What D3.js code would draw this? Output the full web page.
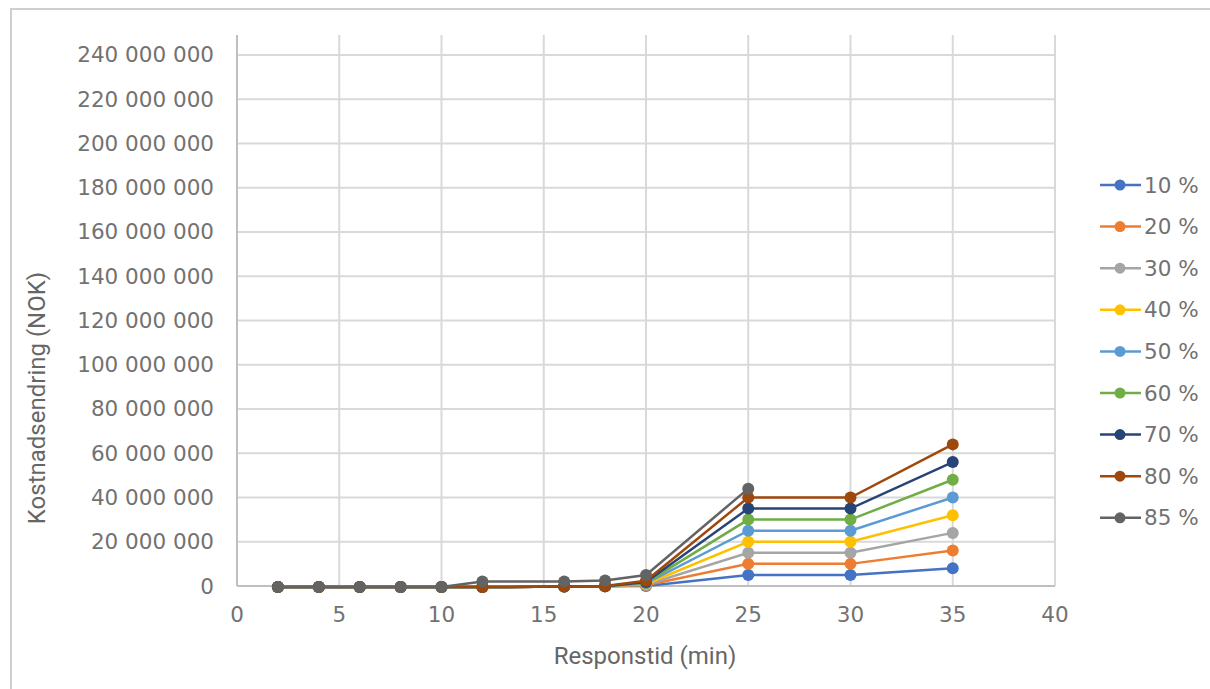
<!DOCTYPE html>
<html>
<head>
<meta charset="utf-8">
<script src="https://cdn.jsdelivr.net/npm/d3@7"></script>
<style>
  body { margin: 0; background: #fff; }
  #chart { width: 1210px; height: 689px; }
</style>
</head>
<body>
<div id="chart"></div>
<script>
(function () {
// data
const xValues = [2, 4, 6, 8, 10, 12, 16, 18, 20, 25, 30, 35];
const seriesNames = ["10 %", "20 %", "30 %", "40 %", "50 %", "60 %", "70 %", "80 %", "85 %"];
const s10 = [-0.4e6, -0.4e6, -0.4e6, -0.4e6, -0.4e6, -0.5e6, -0.2e6, -0.1e6, 0, 5e6, 5e6, 8e6];
const s20 = [-0.4e6, -0.4e6, -0.4e6, -0.4e6, -0.4e6, -0.5e6, -0.2e6, -0.1e6, 0.3e6, 10e6, 10e6, 16e6];
const s30 = [-0.4e6, -0.4e6, -0.4e6, -0.4e6, -0.4e6, -0.5e6, -0.2e6, -0.1e6, 0.6e6, 15e6, 15e6, 24e6];
const s40 = [-0.4e6, -0.4e6, -0.4e6, -0.4e6, -0.4e6, -0.5e6, -0.2e6, -0.1e6, 0.9e6, 20e6, 20e6, 32e6];
const s50 = [-0.4e6, -0.4e6, -0.4e6, -0.4e6, -0.4e6, -0.5e6, -0.2e6, -0.1e6, 1.2e6, 25e6, 25e6, 40e6];
const s60 = [-0.4e6, -0.4e6, -0.4e6, -0.4e6, -0.4e6, -0.5e6, -0.2e6, -0.1e6, 1.5e6, 30e6, 30e6, 48e6];
const s70 = [-0.4e6, -0.4e6, -0.4e6, -0.4e6, -0.4e6, -0.5e6, -0.2e6, -0.1e6, 1.8e6, 35e6, 35e6, 56e6];
const s80 = [-0.4e6, -0.4e6, -0.4e6, -0.4e6, -0.4e6, -0.5e6, -0.2e6, 0, 2.4e6, 40e6, 40e6, 64e6];
const s85 = [-0.4e6, -0.4e6, -0.4e6, -0.4e6, -0.4e6, 2e6, 2e6, 2.5e6, 5e6, 44e6, null, null];
const seriesValues = [s10, s20, s30, s40, s50, s60, s70, s80, s85];
const colors = ["#4472C4", "#ED7D31", "#A5A5A5", "#FFC000", "#5B9BD5", "#70AD47", "#264478", "#9E480E", "#636363"];
const xTicks = [0, 5, 10, 15, 20, 25, 30, 35, 40];
const yTicks = d3.range(0, 240e6 + 1, 20e6);

const svg = d3.select("#chart")
  .append("svg")
  .attr("width", 1210)
  .attr("height", 689);

// frame
svg.append("path")
  .attr("d", "M11,689 V9 H1210")
  .attr("fill", "none")
  .attr("stroke", "#cfcfcf")
  .attr("stroke-width", 2);

const plot = { left: 237, right: 1055, top: 35, bottom: 586 };

const x = d3.scaleLinear().domain([0, 40]).range([plot.left, plot.right]);
const y = d3.scaleLinear().domain([0, 249e6]).range([plot.bottom, plot.top]);

const tickFont = "'DejaVu Sans', sans-serif";
const fmt = v => d3.format(",")(v).replace(/,/g, " ");

// gridlines
svg.append("g")
  .selectAll("line")
  .data(yTicks.filter(d => d > 0))
  .join("line")
  .attr("x1", plot.left).attr("x2", plot.right)
  .attr("y1", d => y(d)).attr("y2", d => y(d))
  .attr("stroke", "#d9d9d9")
  .attr("stroke-width", 2);

svg.append("g")
  .selectAll("line")
  .data(xTicks.filter(d => d > 0))
  .join("line")
  .attr("x1", d => x(d)).attr("x2", d => x(d))
  .attr("y1", plot.top).attr("y2", plot.bottom)
  .attr("stroke", "#d9d9d9")
  .attr("stroke-width", 2);

// axis lines
svg.append("line")
  .attr("x1", plot.left).attr("x2", plot.left)
  .attr("y1", plot.top).attr("y2", plot.bottom)
  .attr("stroke", "#bfbfbf").attr("stroke-width", 2);
svg.append("line")
  .attr("x1", plot.left).attr("x2", plot.right)
  .attr("y1", plot.bottom).attr("y2", plot.bottom)
  .attr("stroke", "#bfbfbf").attr("stroke-width", 2);

// tick labels
svg.append("g")
  .selectAll("text")
  .data(yTicks)
  .join("text")
  .attr("x", 214)
  .attr("y", d => y(d) + 7.5)
  .attr("text-anchor", "end")
  .style("font-family", tickFont)
  .style("font-size", "21.5px")
  .style("fill", "#727272")
  .text(d => fmt(d));

svg.append("g")
  .selectAll("text")
  .data(xTicks)
  .join("text")
  .attr("x", d => x(d))
  .attr("y", 622)
  .attr("text-anchor", "middle")
  .style("font-family", tickFont)
  .style("font-size", "21.5px")
  .style("fill", "#727272")
  .text(d => d);

// axis titles
svg.append("text")
  .attr("x", 645)
  .attr("y", 664)
  .attr("text-anchor", "middle")
  .style("font-family", "Roboto, sans-serif")
  .style("font-size", "24px")
  .style("fill", "#666")
  .text("Responstid (min)");

svg.append("text")
  .attr("transform", "translate(45, 398) rotate(-90)")
  .attr("text-anchor", "middle")
  .style("font-family", "Roboto, sans-serif")
  .style("font-size", "24px")
  .style("fill", "#666")
  .text("Kostnadsendring (NOK)");

// series
const line = d3.line()
  .defined(d => d.v !== null)
  .x(d => x(d.x))
  .y(d => y(d.v));

seriesValues.forEach((vals, i) => {
  const pts = xValues.map((xv, j) => ({ x: xv, v: vals[j] }));
  const g = svg.append("g");
  g.append("path")
    .datum(pts)
    .attr("fill", "none")
    .attr("stroke", colors[i])
    .attr("stroke-width", 2.5)
    .attr("d", line);
  g.selectAll("circle")
    .data(pts.filter(d => d.v !== null))
    .join("circle")
    .attr("cx", d => x(d.x))
    .attr("cy", d => y(d.v))
    .attr("r", 6)
    .attr("fill", colors[i]);
});

// legend
const legend = svg.append("g");
seriesNames.forEach((name, i) => {
  const ly = 185 + i * 41.6;
  legend.append("line")
    .attr("x1", 1100).attr("x2", 1141)
    .attr("y1", ly).attr("y2", ly)
    .attr("stroke", colors[i]).attr("stroke-width", 2.5);
  legend.append("circle")
    .attr("cx", 1120).attr("cy", ly).attr("r", 5.5)
    .attr("fill", colors[i]);
  legend.append("text")
    .attr("x", 1144)
    .attr("y", ly + 7.5)
    .style("font-family", tickFont)
    .style("font-size", "21.5px")
    .style("fill", "#727272")
    .text(name);
});
})();
</script>
</body>
</html>
